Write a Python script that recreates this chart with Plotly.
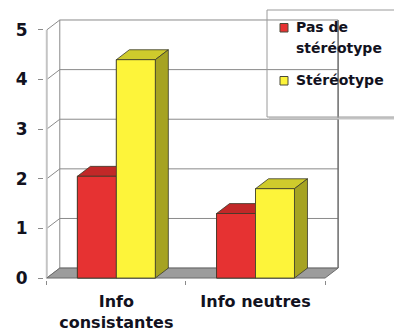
import plotly.graph_objects as go

# Chart data
categories = ["Info<br>consistantes", "Info neutres"]
series_names = ["Pas de<br>stéréotype", "Stéréotype"]
pas_de_stereotype = [2.05, 1.3]
stereotype = [4.4, 1.8]
y_ticks = [0, 1, 2, 3, 4, 5]

values = [pas_de_stereotype, stereotype]
front_colors = ["#e63232", "#fdf43a"]
top_colors = ["#c22828", "#cfcb2c"]
side_colors = ["#a11e1e", "#a6a322"]
EDGE = "#3a3a2a"
GRID = "#8a8a8a"
TEXT = "#12121e"
FONT = "DejaVu Sans"

BAR_W = 0.28          # width of one bar in category units
DX, DY = 0.0935, 0.2  # depth offset of the 3D box (x units, y units)
X_MAX = len(categories)
Y_MAX = max(y_ticks)

# figure geometry (pixels) used to place the legend in paper units
W, H = 394, 336
M_L, M_R, M_T, M_B = 44, 55, 19, 56
PW, PH = W - M_L - M_R, H - M_T - M_B


def fx(px):
    return (px - M_L) / PW


def fy(py):
    return (H - M_B - py) / PH


fig = go.Figure()

centers = [k + 0.5 for k in range(len(categories))]
n_series = len(values)
for i, (name, vals) in enumerate(zip(series_names, values)):
    fig.add_bar(
        x=centers, y=vals, width=BAR_W, offset=(i - n_series / 2) * BAR_W,
        name=name.replace("<br>", " "), showlegend=False,
        marker=dict(color=front_colors[i], line=dict(color=EDGE, width=0.8)),
    )

shapes = []


def poly(points, fill, layer="above", line_color=EDGE, line_width=0.8):
    path = "M " + " L ".join(f"{px},{py}" for px, py in points) + " Z"
    return dict(type="path", path=path, xref="x", yref="y", fillcolor=fill,
                line=dict(color=line_color, width=line_width), layer=layer)


def seg(x0, y0, x1, y1, color=GRID, width=1):
    return dict(type="line", x0=x0, y0=y0, x1=x1, y1=y1, xref="x", yref="y",
                line=dict(color=color, width=width), layer="below")


# back wall grid and left wall diagonals
for t in y_ticks:
    shapes.append(seg(DX, t + DY, X_MAX + DX, t + DY))
    shapes.append(seg(0, t, DX, t + DY))
shapes.append(seg(0, 0, 0, Y_MAX, color="#c4c4c4", width=2))
shapes.append(seg(DX, DY, DX, Y_MAX + DY))
shapes.append(seg(X_MAX + DX, DY, X_MAX + DX, Y_MAX + DY, color="#6a6a6a", width=1.5))

# floor
shapes.append(poly([(0, 0), (DX, DY), (X_MAX + DX, DY), (X_MAX, 0)], "#9c9c9c",
                   layer="below", line_color="#6a6a6a", line_width=1))

# 3D bar faces (top, side, front), drawn back to front within each group
for k, c in enumerate(centers):
    for i, vals in enumerate(values):
        v = vals[k]
        x0 = c + (i - n_series / 2) * BAR_W
        x1 = x0 + BAR_W
        shapes.append(poly([(x0, v), (x1, v), (x1 + DX, v + DY), (x0 + DX, v + DY)], top_colors[i]))
        shapes.append(poly([(x1, 0), (x1 + DX, DY), (x1 + DX, v + DY), (x1, v)], side_colors[i]))
        shapes.append(poly([(x0, 0), (x1, 0), (x1, v), (x0, v)], front_colors[i]))

# legend frame with a soft shadow
shapes.append(dict(type="line", xref="paper", yref="paper", x0=fx(269), x1=fx(410),
                   y0=fy(118.5), y1=fy(118.5), line=dict(color="#c4c4c4", width=2), layer="above"))
shapes.append(dict(type="rect", xref="paper", yref="paper", x0=fx(267), x1=fx(410),
                   y0=fy(117), y1=fy(10), line=dict(color="#9a9a9a", width=1),
                   fillcolor="rgba(0,0,0,0)", layer="above"))

# legend entries: colour key plus one text line per row
annotations = []
LINE_H = 21
entry_mid = [27, 80]   # vertical centre of each entry's first text line (px)
for i, name in enumerate(series_names):
    mid = entry_mid[i]
    shapes.append(dict(type="rect", xref="paper", yref="paper",
                       x0=fx(280), x1=fx(288), y0=fy(mid + 5), y1=fy(mid - 3.5),
                       fillcolor=front_colors[i], line=dict(color="#4a4a3a", width=1),
                       layer="above"))
    for j, line in enumerate(name.split("<br>")):
        annotations.append(dict(
            xref="paper", yref="paper", x=fx(294), y=fy(mid + j * LINE_H),
            xanchor="left", yanchor="middle", text=line, showarrow=False,
            font=dict(family=FONT, size=14, color=TEXT, weight="bold")))

fig.update_layout(
    width=W, height=H,
    margin=dict(l=M_L, r=M_R, t=M_T, b=M_B, autoexpand=False),
    paper_bgcolor="white", plot_bgcolor="white",
    barmode="overlay",
    shapes=shapes,
    annotations=annotations,
    showlegend=False,
    xaxis=dict(range=[-0.02, 2.1], tickvals=centers, ticktext=categories,
               ticks="", showgrid=False, zeroline=False, showline=False,
               automargin=False,
               tickfont=dict(family=FONT, size=16, color=TEXT, weight="bold"),
               ticklabelstandoff=10,
               minor=dict(ticks="outside", tickvals=list(range(X_MAX + 1)), ticklen=4,
                          tickcolor=GRID, showgrid=False)),
    yaxis=dict(range=[-0.04, 5.22], tickvals=y_ticks, ticks="outside", ticklen=5,
               tickcolor=GRID, showgrid=False, zeroline=False, showline=False,
               automargin=False,
               tickfont=dict(family=FONT, size=17, color=TEXT, weight="bold"),
               ticklabelstandoff=7),
)

fig.write_html("out.html")
